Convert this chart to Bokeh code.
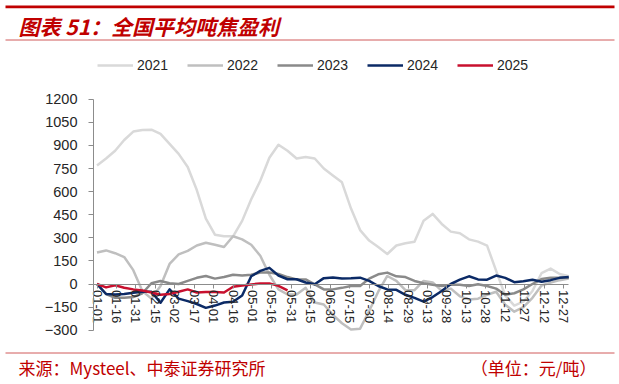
from datetime import datetime, timedelta
from bokeh.plotting import figure
from bokeh.models import Range1d, FixedTicker, Legend, LegendItem, ColumnDataSource
from bokeh.embed import file_html
from bokeh.resources import INLINE
from bokeh.core.properties import value

# ---------------- data ----------------
title_text = "图表 51：全国平均吨焦盈利"
source_text = "来源：Mysteel、中泰证券研究所"
unit_text = "（单位：元/吨）"

series_names = ["2021", "2022", "2023", "2024", "2025"]
series_colors = ["#d9d9d9", "#bfbfbf", "#8a8a8a", "#0b2a66", "#c8102e"]

tick_labels = ["01-01", "01-16", "01-31", "02-15", "03-02", "03-17", "04-01", "04-16",
               "05-01", "05-16", "05-31", "06-15", "06-30", "07-15", "07-30", "08-14",
               "08-29", "09-13", "09-28", "10-13", "10-28", "11-12", "11-27", "12-12",
               "12-27"]
y_ticks = [-300, -150, 0, 150, 300, 450, 600, 750, 900, 1050, 1200]

# weekly observation dates, starting 01-01
first_date = "2021-01-01"
n_weeks = 53

v2021 = [770, 815, 865, 935, 990, 1000, 1002, 975, 910, 845, 760, 610, 425, 320,
         310, 310, 410, 550, 670, 820, 904, 865, 815, 825, 815, 750, 705, 660,
         490, 350, 282, 240, 195, 250, 265, 275, 410, 455, 390, 340, 330, 290,
         275, 249, 85, -75, -140, -115, -45, 70, 100, 65, 50]
v2022 = [205, 218, 200, 175, 90, -45, -95, -13, 130, 192, 215, 250, 268, 255,
         240, 310, 290, 255, 183, 60, -35, -68, -68, -25, -120, -133, -200, -255,
         -295, -290, -175, -50, 52, 20, -40, -40, 20, 10, -45, -30, -80, -100,
         -95, -70, -50, -135, -180, -150, -90, -10, 9, 25, 35]
v2023 = [0, -65, -90, -90, -85, -60, 5, 20, 5, 0, 20, 40, 52, 35,
         45, 60, 55, 60, 74, 74, 65, 45, 30, 30, -2, -35, -35, -25,
         -13, -13, 35, 63, 74, 50, 45, 20, 5, -5, -13, -5, -5, -13,
         -2, -13, -30, -70, -60, -35, 0, 32, 40, 41, 41]
v2024 = [0, -65, -68, -65, -57, -50, -50, -122, -35, -95, -111, -130, -155, -140,
         -120, -115, -75, 50, 85, 105, 55, 31, 31, 10, -2, 38, 42, 35,
         37, 41, 20, -13, -35, -38, -70, -90, -115, -85, -45, 0, 28, 50,
         30, 28, 55, 40, 12, 18, 28, 15, 25, 40, 46]
v2025 = [0, -22, -8, -24, -35, -42, -55, -70, -65, -50, -35, -55, -52, -52,
         -55, -18, -10, -3, 4, 4, -12, -41]

all_values = [v2021, v2022, v2023, v2024, v2025]

# ---------------- derived x positions (day of year) ----------------
d0 = datetime.strptime(first_date, "%Y-%m-%d")
week_days = [(d0 + timedelta(days=7 * i) - d0).days for i in range(n_weeks)]
tick_days = [(datetime.strptime("2021-" + t, "%Y-%m-%d") - d0).days for t in tick_labels]

# ---------------- layout (pixel <-> data mapping of the canvas) ----------------
W, H = 619, 384
PX_DAY0 = 96.5      # pixel column of day 0
PX_PER_DAY = 1.296
PX_VAL0 = 283.5     # pixel row of value 0
PX_PER_UNIT = 0.154

def dx(px):
    return (px - PX_DAY0) / PX_PER_DAY

def vy(py):
    return (PX_VAL0 - py) / PX_PER_UNIT

NUM_FONT = "Liberation Sans"
CJK_FONT = "Noto Sans CJK SC"
RED = "#c00000"
AXIS_COLOR = "#8c8c8c"
TEXT_COLOR = "#262626"

p = figure(width=W, height=H, x_range=Range1d(dx(0), dx(W)), y_range=Range1d(vy(H), vy(0)),
           output_backend="svg", toolbar_location=None,
           min_border=0, min_border_left=0, min_border_right=0,
           min_border_top=0, min_border_bottom=0)
p.xgrid.visible = False
p.ygrid.visible = False
p.outline_line_color = None
p.background_fill_color = "white"
p.border_fill_color = "white"

# ---------------- series ----------------
renderers = []
for name, vals, color in zip(series_names, all_values, series_colors):
    src = ColumnDataSource(dict(x=week_days[:len(vals)], y=vals))
    r = p.line("x", "y", source=src, line_color=color, line_width=2.5, line_join="round")
    renderers.append(r)

# ---------------- axes ----------------
p.yaxis.ticker = FixedTicker(ticks=y_ticks)
p.yaxis.fixed_location = dx(93)
p.yaxis.bounds = (y_ticks[0], y_ticks[-1])
p.yaxis.axis_line_color = AXIS_COLOR
p.yaxis.major_tick_line_color = AXIS_COLOR
p.yaxis.major_tick_out = 5
p.yaxis.major_tick_in = 0
p.yaxis.minor_tick_line_color = None
p.yaxis.major_label_standoff = 11
p.yaxis.major_label_text_font = NUM_FONT
p.yaxis.major_label_text_font_size = "14.5px"
p.yaxis.major_label_text_color = TEXT_COLOR

p.xaxis.ticker = FixedTicker(ticks=tick_days)
p.xaxis.major_label_overrides = {d: t for d, t in zip(tick_days, tick_labels)}
p.xaxis.fixed_location = 0
p.xaxis.bounds = (dx(93), dx(568))
p.xaxis.axis_line_color = AXIS_COLOR
p.xaxis.major_tick_line_color = AXIS_COLOR
p.xaxis.major_tick_out = 4
p.xaxis.major_tick_in = 0
p.xaxis.minor_tick_line_color = None
p.xaxis.major_label_orientation = "vertical"
p.xaxis.major_label_standoff = 2
p.xaxis.major_label_text_font = NUM_FONT
p.xaxis.major_label_text_font_size = "13px"
p.xaxis.major_label_text_color = TEXT_COLOR

# ---------------- header ----------------
p.quad(left=[dx(5)], right=[dx(614)], top=[vy(5)], bottom=[vy(7.8)],
       fill_color=RED, line_color=None)
p.text(x=[dx(18)], y=[vy(25)], text=[title_text], text_font=value(CJK_FONT),
       text_font_size="21px", text_font_style="bold italic", text_color=RED,
       text_baseline="middle", text_align="left")
p.segment(x0=[dx(5)], y0=[vy(39.5)], x1=[dx(614)], y1=[vy(39.5)],
          line_color="#d05a5a", line_width=1)

legend = Legend(items=[LegendItem(label=n, renderers=[r]) for n, r in zip(series_names, renderers)],
                orientation="horizontal", location=(97, H - 75),
                glyph_width=36, glyph_height=20, label_standoff=4, label_width=32,
                label_height=20, spacing=18, padding=0, margin=0,
                label_text_font=NUM_FONT, label_text_font_size="14px",
                label_text_color=TEXT_COLOR, background_fill_alpha=0,
                border_line_alpha=0)
p.add_layout(legend, "center")

# ---------------- footer ----------------
p.segment(x0=[dx(5)], y0=[vy(352.5)], x1=[dx(614)], y1=[vy(352.5)],
          line_color="#d05a5a", line_width=1)
p.text(x=[dx(18)], y=[vy(367)], text=[source_text], text_font=value(CJK_FONT),
       text_font_size="17px", text_color=RED, text_baseline="middle", text_align="left")
p.text(x=[dx(596)], y=[vy(367)], text=[unit_text], text_font=value(CJK_FONT),
       text_font_size="17px", text_color=RED, text_baseline="middle", text_align="right")

open("out.html", "w").write(file_html(p, INLINE))
